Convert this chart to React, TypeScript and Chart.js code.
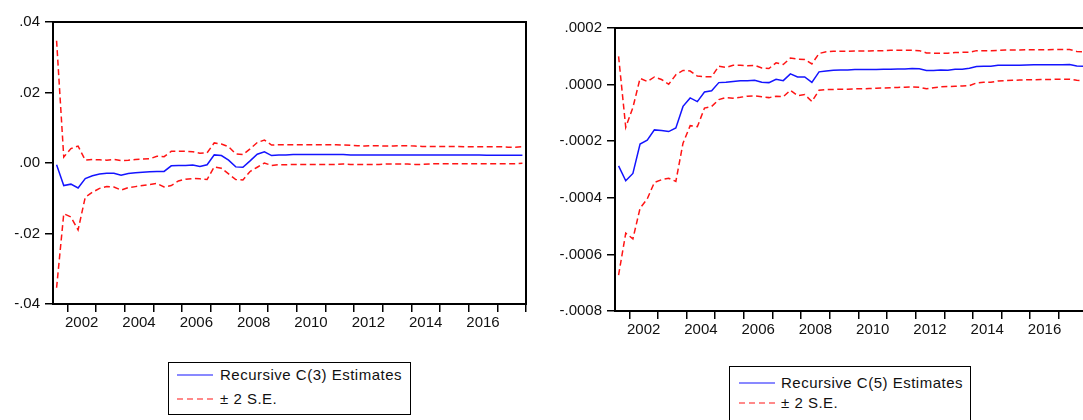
import React, { useEffect, useRef } from "react";
import { Chart, registerables } from "chart.js";
Chart.register(...registerables);

const FONT = '"Liberation Sans", Arial, Helvetica, sans-serif';

const quarters = [
  "2001Q3", "2001Q4",
  "2002Q1", "2002Q2", "2002Q3", "2002Q4", "2003Q1", "2003Q2", "2003Q3", "2003Q4",
  "2004Q1", "2004Q2", "2004Q3", "2004Q4", "2005Q1", "2005Q2", "2005Q3", "2005Q4",
  "2006Q1", "2006Q2", "2006Q3", "2006Q4", "2007Q1", "2007Q2", "2007Q3", "2007Q4",
  "2008Q1", "2008Q2", "2008Q3", "2008Q4", "2009Q1", "2009Q2", "2009Q3", "2009Q4",
  "2010Q1", "2010Q2", "2010Q3", "2010Q4", "2011Q1", "2011Q2", "2011Q3", "2011Q4",
  "2012Q1", "2012Q2", "2012Q3", "2012Q4", "2013Q1", "2013Q2", "2013Q3", "2013Q4",
  "2014Q1", "2014Q2", "2014Q3", "2014Q4", "2015Q1", "2015Q2", "2015Q3", "2015Q4",
  "2016Q1", "2016Q2", "2016Q3", "2016Q4", "2017Q1", "2017Q2", "2017Q3", "2017Q4",
];

// Recursive C(3) estimates and ±2 S.E. bands
const estC3 = [
  -0.0005, -0.0064, -0.0060, -0.0071, -0.0044, -0.0036, -0.0031, -0.0029, -0.0029, -0.0035,
  -0.0030, -0.0028, -0.0026, -0.0025, -0.0024, -0.0024, -0.0008, -0.0007, -0.0007, -0.0006,
  -0.0010, -0.0005, 0.0023, 0.0021, 0.0008, -0.0011, -0.0012, 0.0006, 0.0025, 0.0032,
  0.0021, 0.0023, 0.0023, 0.0024, 0.0024, 0.0024, 0.0024, 0.0024, 0.0024, 0.0024,
  0.0024, 0.0023, 0.0023, 0.0023, 0.0023, 0.0023, 0.0023, 0.0023, 0.0023, 0.0023,
  0.0023, 0.0023, 0.0023, 0.0023, 0.0023, 0.0023, 0.0023, 0.0023, 0.0023, 0.0023,
  0.0022, 0.0022, 0.0022, 0.0022, 0.0022, 0.0022,
];
const upperC3 = [
  0.0347, 0.0017, 0.0041, 0.0048, 0.0008, 0.0010, 0.0009, 0.0008, 0.0010, 0.0007,
  0.0008, 0.0010, 0.0011, 0.0012, 0.0019, 0.0018, 0.0033, 0.0033, 0.0033, 0.0032,
  0.0028, 0.0029, 0.0057, 0.0054, 0.0046, 0.0026, 0.0024, 0.0040, 0.0058, 0.0065,
  0.0051, 0.0052, 0.0052, 0.0052, 0.0052, 0.0052, 0.0052, 0.0052, 0.0052, 0.0052,
  0.0051, 0.0050, 0.0049, 0.0048, 0.0049, 0.0049, 0.0048, 0.0048, 0.0049, 0.0049,
  0.0048, 0.0047, 0.0047, 0.0047, 0.0047, 0.0047, 0.0047, 0.0046, 0.0046, 0.0046,
  0.0046, 0.0046, 0.0046, 0.0045, 0.0045, 0.0046,
];
const lowerC3 = [
  -0.0354, -0.0144, -0.0153, -0.0190, -0.0097, -0.0083, -0.0072, -0.0067, -0.0068, -0.0077,
  -0.0070, -0.0067, -0.0064, -0.0061, -0.0058, -0.0068, -0.0064, -0.0051, -0.0046, -0.0044,
  -0.0045, -0.0047, -0.0011, -0.0015, -0.0031, -0.0047, -0.0048, -0.0024, -0.0012, 0.0000,
  -0.0007, -0.0005, -0.0005, -0.0004, -0.0004, -0.0004, -0.0004, -0.0004, -0.0004, -0.0004,
  -0.0003, -0.0004, -0.0004, -0.0004, -0.0004, -0.0004, -0.0003, -0.0003, -0.0003, -0.0003,
  -0.0004, -0.0004, -0.0003, -0.0002, -0.0002, -0.0002, -0.0002, -0.0002, -0.0002, -0.0002,
  -0.0002, -0.0002, -0.0002, -0.0002, -0.0002, -0.0001,
];

// Recursive C(5) estimates and ±2 S.E. bands
const estC5 = [
  -0.000287, -0.000340, -0.000314, -0.000210, -0.000196, -0.000160, -0.000162, -0.000166, -0.000153, -0.000077,
  -0.000047, -0.000060, -0.000026, -0.000022, 0.000007, 0.000008, 0.000011, 0.000014, 0.000014, 0.000015,
  0.000008, 0.000007, 0.000019, 0.000014, 0.000038, 0.000027, 0.000027, 0.000008, 0.000045, 0.000048,
  0.000051, 0.000052, 0.000052, 0.000053, 0.000053, 0.000053, 0.000053, 0.000054, 0.000054, 0.000055,
  0.000055, 0.000057, 0.000056, 0.000050, 0.000050, 0.000052, 0.000051, 0.000054, 0.000054, 0.000058,
  0.000064, 0.000065, 0.000065, 0.000068, 0.000068, 0.000068, 0.000068, 0.000069, 0.000070, 0.000070,
  0.000070, 0.000070, 0.000070, 0.000071, 0.000066, 0.000065,
];
const upperC5 = [
  0.000100, -0.000151, -0.000081, 0.000022, 0.000011, 0.000027, 0.000018, 0.000001, 0.000035, 0.000050,
  0.000048, 0.000030, 0.000028, 0.000028, 0.000065, 0.000061, 0.000068, 0.000068, 0.000067, 0.000068,
  0.000059, 0.000057, 0.000077, 0.000071, 0.000094, 0.000090, 0.000089, 0.000073, 0.000110, 0.000116,
  0.000118, 0.000118, 0.000118, 0.000119, 0.000119, 0.000119, 0.000120, 0.000120, 0.000121, 0.000121,
  0.000121, 0.000121, 0.000120, 0.000112, 0.000111, 0.000111, 0.000111, 0.000113, 0.000114, 0.000114,
  0.000120, 0.000120, 0.000120, 0.000121, 0.000122, 0.000122, 0.000122, 0.000123, 0.000123, 0.000123,
  0.000123, 0.000124, 0.000124, 0.000124, 0.000117, 0.000116,
];
const lowerC5 = [
  -0.000673, -0.000525, -0.000545, -0.000437, -0.000404, -0.000346, -0.000336, -0.000331, -0.000342, -0.000207,
  -0.000145, -0.000149, -0.000083, -0.000077, -0.000053, -0.000046, -0.000048, -0.000045, -0.000041, -0.000040,
  -0.000043, -0.000046, -0.000041, -0.000043, -0.000020, -0.000039, -0.000035, -0.000060, -0.000020, -0.000017,
  -0.000017, -0.000016, -0.000016, -0.000015, -0.000015, -0.000014, -0.000013, -0.000012, -0.000011, -0.000010,
  -0.000009, -0.000008, -0.000009, -0.000015, -0.000011, -0.000008, -0.000007, -0.000006, -0.000005, -0.000004,
  0.000006, 0.000008, 0.000008, 0.000013, 0.000014, 0.000015, 0.000016, 0.000017, 0.000017, 0.000018,
  0.000018, 0.000019, 0.000019, 0.000019, 0.000015, 0.000014,
];

const xMin = 2001.5;
const xMax = 2018;
const yTicksC3 = { min: -0.04, max: 0.04, step: 0.02, decimals: 2 };
const yTicksC5 = { min: -0.0008, max: 0.0002, step: 0.0002, decimals: 4 };
const legendC3 = ["Recursive C(3) Estimates", "\u00B1 2 S.E."];
const legendC5 = ["Recursive C(5) Estimates", "\u00B1 2 S.E."];

const BLUE = "rgb(20,20,255)";
const RED = "rgb(255,20,20)";

const quarterToX = (q: string) => Number(q.slice(0, 4)) + (Number(q.slice(5)) - 0.5) / 4;

const fmt = (v: number, d: number) => {
  if (Math.abs(v) < 1e-12) v = 0;
  return v.toFixed(d).replace(/^(-?)0\./, "$1.");
};

const framePlugin = {
  id: "frame",
  afterDatasetsDraw(chart: any) {
    const { ctx, chartArea: a } = chart;
    ctx.save();
    ctx.strokeStyle = "#000";
    ctx.lineWidth = 2;
    ctx.strokeRect(a.left, a.top, a.right - a.left, a.bottom - a.top);
    ctx.restore();
  },
};

type PanelProps = {
  left: number; top: number; width: number; height: number;
  area: { left: number; top: number; right: number; bottom: number };
  yt: { min: number; max: number; step: number; decimals: number };
  est: number[]; upper: number[]; lower: number[];
};

function Panel(p: PanelProps) {
  const ref = useRef<HTMLCanvasElement>(null);
  useEffect(() => {
    if (!ref.current) return;
    const pts = (arr: number[]) => arr.map((v, i) => ({ x: quarterToX(quarters[i]), y: v }));
    const halfYear = (p.area.right - p.area.left) / (xMax - xMin) / 2;
    const tickFont = { family: FONT, size: 15 };
    const grid = { drawOnChartArea: false, drawTicks: true, tickLength: 8, color: "#000", lineWidth: 1.5 };
    const chart = new Chart(ref.current, {
      type: "line",
      data: {
        datasets: [
          { data: pts(p.upper), borderColor: RED, borderWidth: 1.5, borderDash: [6, 3.5], pointRadius: 0, tension: 0, fill: false },
          { data: pts(p.lower), borderColor: RED, borderWidth: 1.5, borderDash: [6, 3.5], pointRadius: 0, tension: 0, fill: false },
          { data: pts(p.est), borderColor: BLUE, borderWidth: 1.5, pointRadius: 0, tension: 0, fill: false },
        ],
      },
      options: {
        animation: false,
        responsive: false,
        events: [],
        layout: {
          autoPadding: false,
          padding: { left: 0, top: p.area.top - p.top, right: p.left + p.width - p.area.right, bottom: 0 },
        },
        plugins: { legend: { display: false }, tooltip: { enabled: false } },
        scales: {
          x: {
            type: "linear",
            min: xMin,
            max: xMax,
            afterFit: (s: any) => { s.height = p.top + p.height - p.area.bottom; },
            ticks: {
              stepSize: 1,
              includeBounds: false,
              autoSkip: false,
              maxRotation: 0,
              labelOffset: halfYear,
              padding: 2,
              color: "#111",
              font: tickFont,
              callback: (v: any) => (Number(v) % 2 === 0 && Number(v) < xMax ? String(v) : ""),
            },
            grid,
            border: { display: false },
          },
          y: {
            type: "linear",
            min: p.yt.min,
            max: p.yt.max,
            afterFit: (s: any) => { s.width = p.area.left - p.left; },
            ticks: {
              stepSize: p.yt.step,
              autoSkip: false,
              padding: 5,
              color: "#111",
              font: tickFont,
              callback: (v: any) => fmt(Number(v), p.yt.decimals),
            },
            grid,
            border: { display: false },
          },
        },
      },
      plugins: [framePlugin],
    } as any);
    return () => chart.destroy();
  }, []);
  return (
    <canvas
      ref={ref}
      width={p.width}
      height={p.height}
      style={{ position: "absolute", left: p.left, top: p.top, width: p.width, height: p.height }}
    />
  );
}

type LegendProps = { x: number; y: number; w: number; h: number; lineX1: number; lineX2: number; textX: number; row1: number; row2: number; labels: string[] };

function Legend(l: LegendProps) {
  const rel = (v: number) => v - l.x - 1;
  const relY = (v: number) => v - l.y - 1;
  const sw = l.lineX2 - l.lineX1;
  const row = (yy: number, dash: boolean, text: string) => (
    <>
      <svg
        width={sw}
        height={4}
        style={{ position: "absolute", left: rel(l.lineX1), top: relY(yy) - 2 }}
      >
        <line
          x1={0} y1={2} x2={sw} y2={2}
          stroke={dash ? RED : BLUE}
          strokeWidth={1.2}
          strokeDasharray={dash ? "6 4" : undefined}
        />
      </svg>
      <div
        style={{
          position: "absolute", left: rel(l.textX), top: relY(yy) - 9, height: 18, lineHeight: "18px",
          whiteSpace: "nowrap", fontFamily: FONT, fontSize: 15, letterSpacing: "0.5px", color: "#111",
        }}
      >
        {text}
      </div>
    </>
  );
  return (
    <div
      style={{
        position: "absolute", left: l.x, top: l.y, width: l.w, height: l.h,
        border: "1px solid #000", boxSizing: "border-box", background: "#fff",
      }}
    >
      {row(l.row1, false, l.labels[0])}
      {row(l.row2, true, l.labels[1])}
    </div>
  );
}

export default function App() {
  return (
    <div style={{ position: "absolute", left: 0, top: 0, width: 1083, height: 420, overflow: "hidden", background: "#fff" }}>
      <Panel
        left={0} top={0} width={545} height={345}
        area={{ left: 53, top: 22, right: 526, bottom: 304 }}
        yt={yTicksC3}
        est={estC3} upper={upperC3} lower={lowerC3}
      />
      <Panel
        left={556} top={0} width={540} height={345}
        area={{ left: 615, top: 28, right: 1087.5, bottom: 311 }}
        yt={yTicksC5}
        est={estC5} upper={upperC5} lower={lowerC5}
      />
      <Legend x={168} y={362} w={243} h={53} lineX1={177} lineX2={213} textX={220} row1={375} row2={399} labels={legendC3} />
      <Legend x={729} y={366} w={242} h={60} lineX1={739} lineX2={775} textX={781} row1={383} row2={403} labels={legendC5} />
    </div>
  );
}
